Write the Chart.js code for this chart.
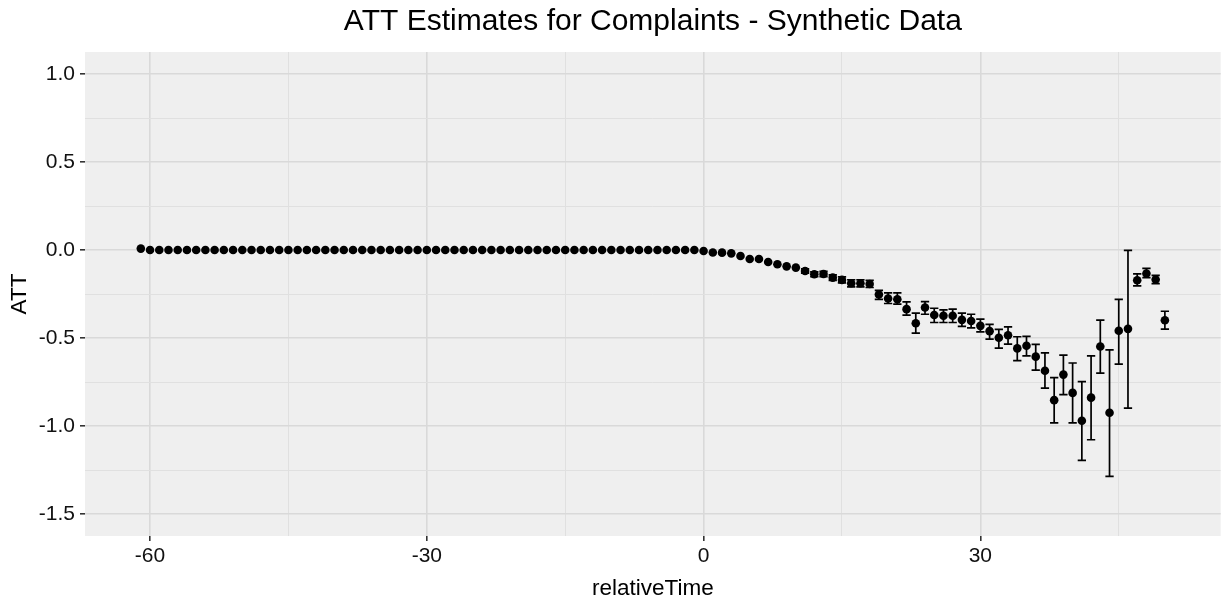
<!DOCTYPE html>
<html>
<head>
<meta charset="utf-8">
<title>ATT Estimates for Complaints - Synthetic Data</title>
<script src="https://cdn.jsdelivr.net/npm/chart.js@4.4.1/dist/chart.umd.min.js"></script>
<style>
    html, body { margin: 0; padding: 0; background: #ffffff; }
    #wrap { width: 1225px; height: 604px; }
</style>
</head>
<body>
<div id="wrap"><canvas id="attChart" width="1225" height="604"></canvas></div>
<script>
// relative time -61..50
const relTime = [
    -61, -60, -59, -58, -57, -56, -55, -54, -53, -52, -51, -50, -49, -48, -47, -46,
    -45, -44, -43, -42, -41, -40, -39, -38, -37, -36, -35, -34, -33, -32, -31, -30,
    -29, -28, -27, -26, -25, -24, -23, -22, -21, -20, -19, -18, -17, -16, -15, -14,
    -13, -12, -11, -10, -9, -8, -7, -6, -5, -4, -3, -2, -1,
    0, 1, 2, 3, 4, 5, 6, 7, 8, 9, 10, 11, 12, 13, 14, 15, 16, 17, 18, 19, 20,
    21, 22, 23, 24, 25, 26, 27, 28, 29, 30, 31, 32, 33, 34, 35, 36, 37, 38, 39, 40,
    41, 42, 43, 44, 45, 46, 47, 48, 49, 50
];
const att = [
    0.008, 0, 0, 0, 0, 0, 0, 0, 0, 0, 0, 0, 0, 0, 0, 0,
    0, 0, 0, 0, 0, 0, 0, 0, 0, 0, 0, 0, 0, 0, 0, 0,
    0, 0, 0, 0, 0, 0, 0, 0, 0, 0, 0, 0, 0, 0, 0, 0,
    0, 0, 0, 0, 0, 0, 0, 0, 0, 0, 0, 0, 0,
    -0.006, -0.014, -0.015, -0.019, -0.034, -0.051, -0.051, -0.068, -0.081, -0.093, -0.100,
    -0.119, -0.138, -0.136, -0.157, -0.170, -0.189, -0.189, -0.193, -0.253, -0.276,
    -0.280, -0.336, -0.416, -0.327, -0.369, -0.374, -0.374, -0.397, -0.403, -0.431,
    -0.461, -0.499, -0.484, -0.559, -0.544, -0.606, -0.686, -0.853, -0.708, -0.812,
    -0.970, -0.839, -0.548, -0.925, -0.459, -0.448, -0.172, -0.134, -0.168, -0.399
];

// error bars (only where visible)
const barTime = [
    11, 12, 13, 14, 15, 16, 17, 18, 19, 20, 21, 22, 23, 24, 25, 26, 27, 28, 29, 30,
    31, 32, 33, 34, 35, 36, 37, 38, 39, 40, 41, 42, 43, 44, 45, 46, 47, 48, 49, 50
];
const barLow = [
    -0.131, -0.152, -0.151, -0.173, -0.187, -0.209, -0.209, -0.213, -0.280, -0.304,
    -0.308, -0.370, -0.472, -0.365, -0.412, -0.412, -0.412, -0.434, -0.442, -0.465,
    -0.506, -0.557, -0.535, -0.629, -0.602, -0.682, -0.785, -0.982, -0.822, -0.982,
    -1.195, -1.078, -0.700, -1.286, -0.648, -0.899, -0.204, -0.157, -0.191, -0.450
];
const barHigh = [
    -0.107, -0.124, -0.121, -0.141, -0.153, -0.169, -0.169, -0.173, -0.229, -0.244,
    -0.244, -0.295, -0.359, -0.293, -0.331, -0.340, -0.336, -0.359, -0.365, -0.393,
    -0.423, -0.451, -0.437, -0.493, -0.491, -0.536, -0.584, -0.725, -0.597, -0.642,
    -0.748, -0.601, -0.399, -0.568, -0.280, -0.002, -0.136, -0.104, -0.144, -0.348
];

// labelled ticks and grid lines (major + minor)
const xMajor = [-60, -30, 0, 30];
const xGrid = [-60, -45, -30, -15, 0, 15, 30, 45];
const yMajor = [1.0, 0.5, 0.0, -0.5, -1.0, -1.5];
const yGrid = [-1.5, -1.25, -1.0, -0.75, -0.5, -0.25, 0.0, 0.25, 0.5, 0.75, 1.0];

const TITLE = 'ATT Estimates for Complaints - Synthetic Data';
const FONT = '"Liberation Sans", Arial, Helvetica, sans-serif';
const PANEL_BG = '#efefef';
const GRID_MAJOR = '#d9d9d9';
const GRID_MINOR = '#e0e0e0';

const isMajor = (list, v) => list.some(m => Math.abs(m - v) < 1e-6);

// grey panel behind the plot area
const panelBg = {
    id: 'panelBg',
    beforeDraw: (chart) => {
        const { ctx, chartArea: a } = chart;
        ctx.save();
        ctx.fillStyle = PANEL_BG;
        ctx.fillRect(a.left, a.top, a.right - a.left, a.bottom - a.top);
        ctx.restore();
    }
};

// title centred over the panel (ggplot style), not over the whole canvas
const panelTitle = {
    id: 'panelTitle',
    afterDraw: (chart) => {
        const { ctx, chartArea: a } = chart;
        ctx.save();
        ctx.fillStyle = '#000000';
        ctx.font = '30px ' + FONT;
        ctx.textAlign = 'center';
        ctx.textBaseline = 'middle';
        ctx.fillText(TITLE, (a.left + a.right) / 2, 22);
        ctx.restore();
    }
};

// ggplot-like geom_errorbar (width 0.9)
const errorBars = {
    id: 'errorBars',
    afterDatasetsDraw: (chart) => {
        const { ctx, scales: { x, y } } = chart;
        ctx.save();
        ctx.strokeStyle = '#000000';
        ctx.lineWidth = 1.7;
        barTime.forEach((t, i) => {
            const px = x.getPixelForValue(t);
            const hw = x.getPixelForValue(t + 0.45) - px;
            const yTop = y.getPixelForValue(barHigh[i]);
            const yBot = y.getPixelForValue(barLow[i]);
            ctx.beginPath();
            ctx.moveTo(px, yTop); ctx.lineTo(px, yBot);
            ctx.moveTo(px - hw, yTop); ctx.lineTo(px + hw, yTop);
            ctx.moveTo(px - hw, yBot); ctx.lineTo(px + hw, yBot);
            ctx.stroke();
        });
        ctx.restore();
    }
};

const points = relTime.map((t, i) => ({ x: t, y: att[i] }));

const axisGrid = (major) => ({
    color: (c) => isMajor(major, c.tick.value) ? GRID_MAJOR : GRID_MINOR,
    lineWidth: (c) => isMajor(major, c.tick.value) ? 1.6 : 1,
    tickColor: (c) => isMajor(major, c.tick.value) ? '#333333' : 'rgba(0,0,0,0)',
    tickLength: 5,
    tickWidth: 1.6
});

new Chart(document.getElementById('attChart').getContext('2d'), {
    type: 'scatter',
    data: {
        datasets: [{
            label: 'ATT',
            data: points,
            backgroundColor: '#000000',
            borderWidth: 0,
            pointRadius: 4.3,
            pointHoverRadius: 4.3
        }]
    },
    options: {
        responsive: false,
        animation: false,
        events: [],
        layout: { padding: { left: 0, right: 2, top: 52, bottom: 0 } },
        plugins: {
            legend: { display: false },
            tooltip: { enabled: false },
            title: { display: false }
        },
        scales: {
            x: {
                type: 'linear',
                min: -67.05,
                max: 56.05,
                border: { display: false },
                grid: axisGrid(xMajor),
                afterBuildTicks: (scale) => { scale.ticks = xGrid.map(v => ({ value: v })); },
                ticks: {
                    autoSkip: false,
                    maxRotation: 0,
                    padding: 3,
                    color: '#111111',
                    font: { family: FONT, size: 21 },
                    callback: (v) => isMajor(xMajor, v) ? String(v) : ''
                },
                title: {
                    display: true,
                    text: 'relativeTime',
                    color: '#000000',
                    font: { family: FONT, size: 22.5 },
                    padding: { top: 0, bottom: 2 }
                },
                afterFit: (scale) => { scale.height = 68; }
            },
            y: {
                type: 'linear',
                min: -1.625,
                max: 1.125,
                border: { display: false },
                grid: axisGrid(yMajor),
                afterBuildTicks: (scale) => { scale.ticks = yGrid.map(v => ({ value: v })); },
                ticks: {
                    autoSkip: false,
                    padding: 5,
                    color: '#111111',
                    font: { family: FONT, size: 21 },
                    callback: (v) => isMajor(yMajor, v) ? v.toFixed(1) : ''
                },
                title: {
                    display: true,
                    text: 'ATT',
                    color: '#000000',
                    font: { family: FONT, size: 22.5 },
                    padding: { top: 6, bottom: 0 }
                },
                afterFit: (scale) => { scale.width = 85; }
            }
        }
    },
    plugins: [panelBg, errorBars, panelTitle]
});
</script>
</body>
</html>
